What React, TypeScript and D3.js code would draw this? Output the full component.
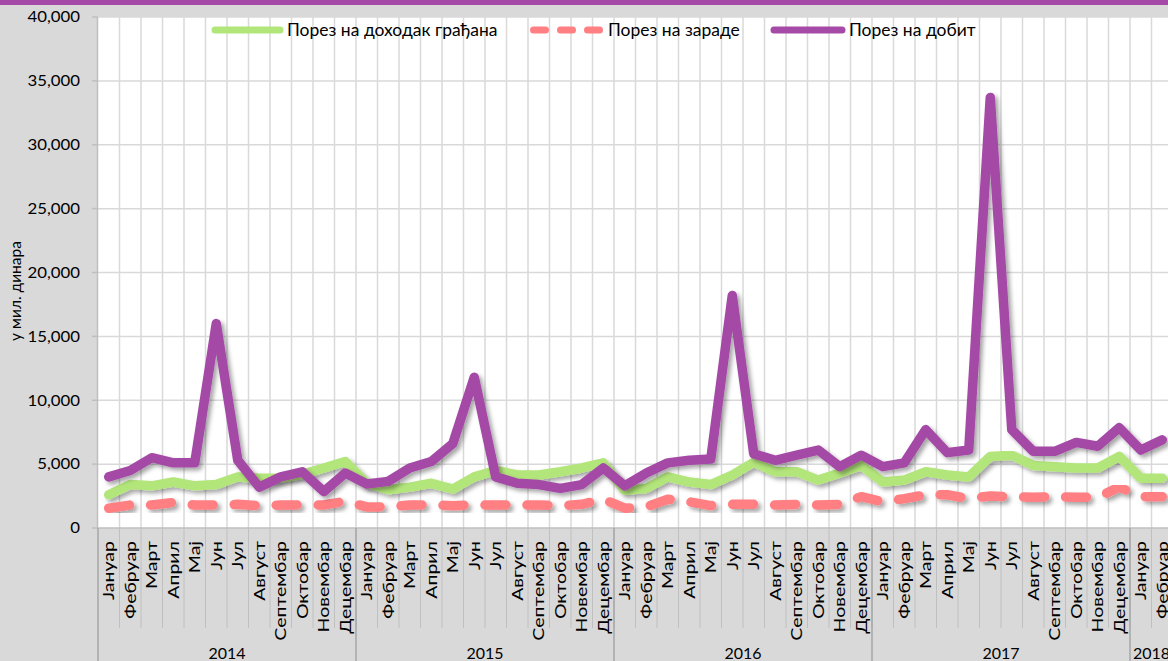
import React from "react";
import * as d3 from "d3";

const months = ["Јануар","Фебруар","Март","Април","Мај","Јун","Јул","Август","Септембар","Октобар","Новембар","Децембар"];
const years = ["2014","2015","2016","2017","2018"];
const monthsInYear = [12, 12, 12, 12, 2];

const categories: { month: string; year: string }[] = [];
years.forEach((yr, yi) => {
  for (let m = 0; m < monthsInYear[yi]; m++) categories.push({ month: months[m], year: yr });
});

const yTicks = [0, 5000, 10000, 15000, 20000, 25000, 30000, 35000, 40000];

const seriesNames = ["Порез на доходак грађана", "Порез на зараде", "Порез на добит"];

const incomeTax = [
  2600, 3400, 3300, 3600, 3300, 3400, 4000, 3900, 3900, 4200, 4700, 5200,
  3500, 3000, 3200, 3500, 3050, 4000, 4500, 4150, 4150, 4400, 4700, 5100,
  2950, 3100, 4000, 3600, 3400, 4150, 5150, 4400, 4400, 3750, 4300, 4900,
  3600, 3750, 4400, 4150, 4000, 5600, 5700, 4900, 4800, 4700, 4700, 5600,
  3900, 3900,
];

const wageTax = [
  1550, 1800, 1800, 2000, 1800, 1800, 1850, 1750, 1800, 1800, 1800, 2100,
  1650, 1650, 1800, 1800, 1750, 1800, 1800, 1800, 1800, 1750, 1850, 2250,
  1550, 1650, 2250, 2050, 1750, 1850, 1850, 1800, 1850, 1800, 1850, 2450,
  2050, 2300, 2600, 2600, 2300, 2500, 2450, 2400, 2450, 2400, 2400, 3200,
  2450, 2450,
];

const profitTax = [
  4000, 4500, 5500, 5100, 5100, 16000, 5300, 3200, 4000, 4400, 2850, 4300,
  3450, 3650, 4700, 5200, 6600, 11800, 4000, 3500, 3400, 3100, 3400, 4700,
  3300, 4300, 5100, 5300, 5400, 18200, 5800, 5300, 5700, 6100, 4800, 5700,
  4800, 5100, 7700, 5900, 6100, 33700, 7700, 6000, 6000, 6700, 6400, 7850,
  6100, 6900,
];

const colors = ["#b2e57a", "#ff7f82", "#a54aa6"];

const W = 1168;
const H = 661;
const FONT = "Lato, 'Open Sans', sans-serif";

function SText(props: {
  x: number;
  y: number;
  rotate?: number;
  sx?: number;
  size: number;
  anchor?: string;
  children: React.ReactNode;
}) {
  const { x, y, rotate = 0, sx = 1, size, anchor = "start", children } = props;
  return (
    <g transform={`translate(${x},${y}) rotate(${rotate}) scale(${sx},1)`}>
      <text x={0} y={0} dy="0.35em" textAnchor={anchor as any} fontSize={size} fill="#000">
        {children}
      </text>
    </g>
  );
}

export default function App() {
  const x = d3
    .scaleBand<number>()
    .domain(categories.map((_, i) => i))
    .range([98, 1173])
    .padding(0);
  const y = d3.scaleLinear().domain([0, 40000]).range([528, 17]);
  const bw = x.bandwidth();
  const cx = (i: number) => (x(i) as number) + bw / 2;

  const line = d3
    .line<number>()
    .x((_, i) => cx(i))
    .y((d) => y(d));

  const plotL = 98;
  const plotR = 1173;
  const plotT = y(40000);
  const plotB = y(0);

  const yearStarts: number[] = [];
  let acc = 0;
  monthsInYear.forEach((n) => {
    yearStarts.push(acc);
    acc += n;
  });

  const series = [incomeTax, wageTax, profitTax];

  return (
    <svg
      width={W}
      height={H}
      style={{ position: "fixed", left: 0, top: 0, display: "block" }}
      fontFamily={FONT}
    >
      <defs>
        <filter id="shadow" x="-10%" y="-10%" width="120%" height="130%">
          <feDropShadow dx="3" dy="3" stdDeviation="2" floodColor="#000" floodOpacity="0.35" />
        </filter>
      </defs>
      <rect x={0} y={0} width={W} height={H} fill="#d9d9d9" />
      <rect x={0} y={0} width={W} height={5} fill="#a54aa6" />
      <rect x={plotL} y={plotT} width={plotR - plotL} height={plotB - plotT} fill="#ffffff" />

      {/* vertical gridlines */}
      {categories.map((_, i) =>
        i === 0 ? null : (
          <line
            key={"vg" + i}
            x1={x(i) as number}
            x2={x(i) as number}
            y1={plotT}
            y2={plotB}
            stroke="#d9d9d9"
            strokeWidth={1.5}
          />
        )
      )}
      {/* horizontal gridlines */}
      {yTicks.map((t) =>
        t === 0 ? null : (
          <line key={"hg" + t} x1={plotL} x2={plotR} y1={y(t)} y2={y(t)} stroke="#d9d9d9" strokeWidth={1.5} />
        )
      )}

      {/* y axis */}
      <line x1={plotL - 0.5} x2={plotL - 0.5} y1={plotT} y2={plotB} stroke="#bfbfbf" strokeWidth={1.5} />
      {yTicks.map((t) => (
        <g key={"yt" + t}>
          <line x1={plotL - 6} x2={plotL} y1={y(t)} y2={y(t)} stroke="#bfbfbf" strokeWidth={1.5} />
          <SText x={80} y={y(t)} size={15} sx={1.12} anchor="end">
            {d3.format(",")(t)}
          </SText>
        </g>
      ))}
      <SText x={16} y={291} rotate={-90} size={15.5} anchor="middle">
        у мил. динара
      </SText>

      {/* x axis */}
      <line x1={plotL} x2={plotR} y1={plotB} y2={plotB} stroke="#bfbfbf" strokeWidth={1.5} />
      {categories.map((_, i) =>
        i === 0 ? null : (
          <line
            key={"ms" + i}
            x1={x(i) as number}
            x2={x(i) as number}
            y1={plotB}
            y2={628}
            stroke="#c0c0c0"
            strokeWidth={1}
          />
        )
      )}
      {yearStarts.map((s, yi) => (
        <line
          key={"ys" + yi}
          x1={x(s) as number}
          x2={x(s) as number}
          y1={plotB}
          y2={H}
          stroke="#a6a6a6"
          strokeWidth={1.5}
        />
      ))}
      {categories.map((c, i) => (
        <SText key={"ml" + i} x={cx(i)} y={541} rotate={-90} size={16} sx={1.22} anchor="end">
          {c.month}
        </SText>
      ))}
      {years.map((yr, yi) => {
        const s = yearStarts[yi];
        const e = s + monthsInYear[yi] - 1;
        const mid = ((x(s) as number) + (x(e) as number) + bw) / 2;
        return (
          <SText key={"yl" + yr} x={mid} y={653} size={16} anchor="middle">
            {yr}
          </SText>
        );
      })}

      {/* series */}
      {series.map((vals, si) => (
        <path
          key={"s" + si}
          d={line(vals) || ""}
          fill="none"
          stroke={colors[si]}
          strokeWidth={9.5}
          strokeLinejoin="round"
          strokeLinecap="round"
          strokeDasharray={si === 1 ? "21 21" : undefined}
          filter="url(#shadow)"
        />
      ))}

      {/* legend */}
      {[
        { x1: 215, x2: 280, tx: 287 },
        { x1: 533.5, x2: 599.5, tx: 608 },
        { x1: 774, x2: 842, tx: 849 },
      ].map((lg, si) => (
        <g key={"lg" + si}>
          <line
            x1={lg.x1}
            x2={lg.x2}
            y1={30}
            y2={30}
            stroke={colors[si]}
            strokeWidth={7}
            strokeLinecap="round"
            strokeDasharray={si === 1 ? "12 15" : undefined}
          />
          <SText x={lg.tx} y={30} size={16.5} sx={1.06}>
            {seriesNames[si]}
          </SText>
        </g>
      ))}
    </svg>
  );
}
